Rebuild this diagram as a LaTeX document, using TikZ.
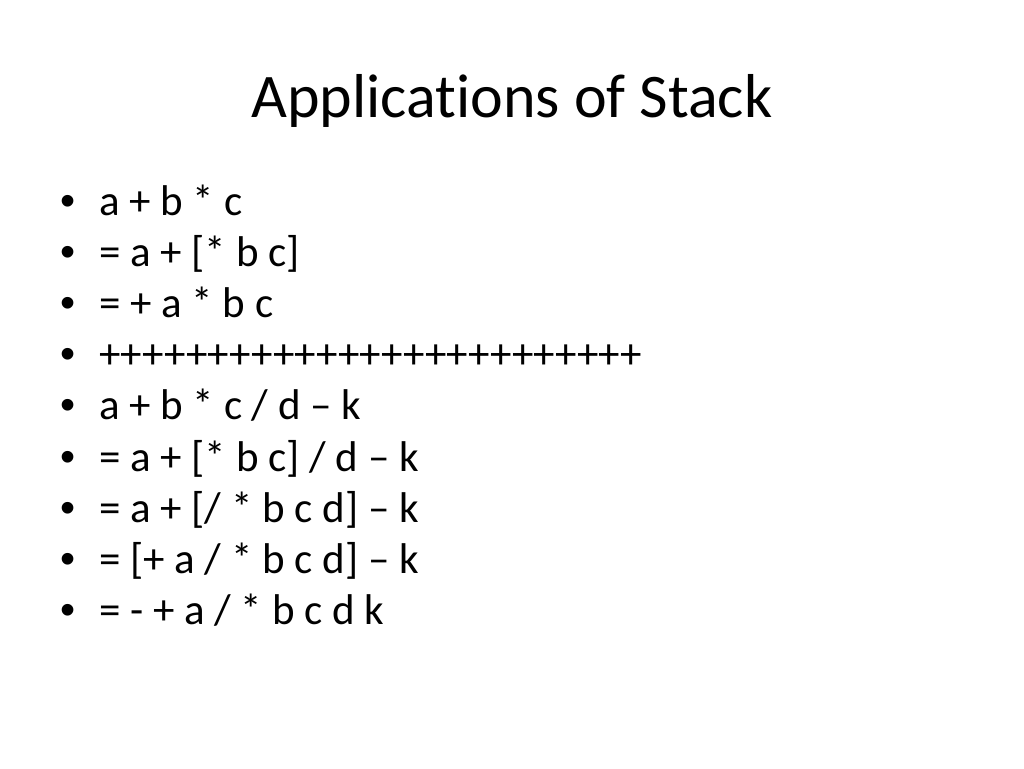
\documentclass[tikz,border=0pt]{standalone}
\usepackage{fontspec}
\setmainfont{Carlito}[Ligatures=NoCommon]
\newfontfamily\bulletfont{Liberation Sans}
\usetikzlibrary{positioning}

\begin{document}
\begin{tikzpicture}[x=1pt,y=-1pt,inner sep=0pt]
% slide title and bullet list

   \tikzstyle{heading}=[font=\fontsize{62}{74}\selectfont,anchor=base]
   \tikzstyle{item}=[font=\fontsize{43}{52}\selectfont,anchor=base west]
   \tikzstyle{dot}=[font=\bulletfont\fontsize{43}{52}\selectfont,anchor=base]
  \useasboundingbox (0,0) rectangle (1024,768);
  \node[heading] (title) at (512,117) {Applications of Stack};

  \foreach \txt [count=\i] in {{a + b * c},{= a + [* b c]},{= + a * b c},
      {+++++++++++++++++++++++++},{a + b * c / d – k},{= a + [* b c] / d – k},
      {= a + [/ * b c d] – k},{= [+ a / * b c d] – k},{= - + a / * b c d k}}
  {
    \node[dot] (dot\i) at (68,{215+(\i-1)*51.2}) {•};
    \node[item] (line\i) at (99,{215+(\i-1)*51.2}) {\txt};
  }
\end{tikzpicture}
\end{document}
